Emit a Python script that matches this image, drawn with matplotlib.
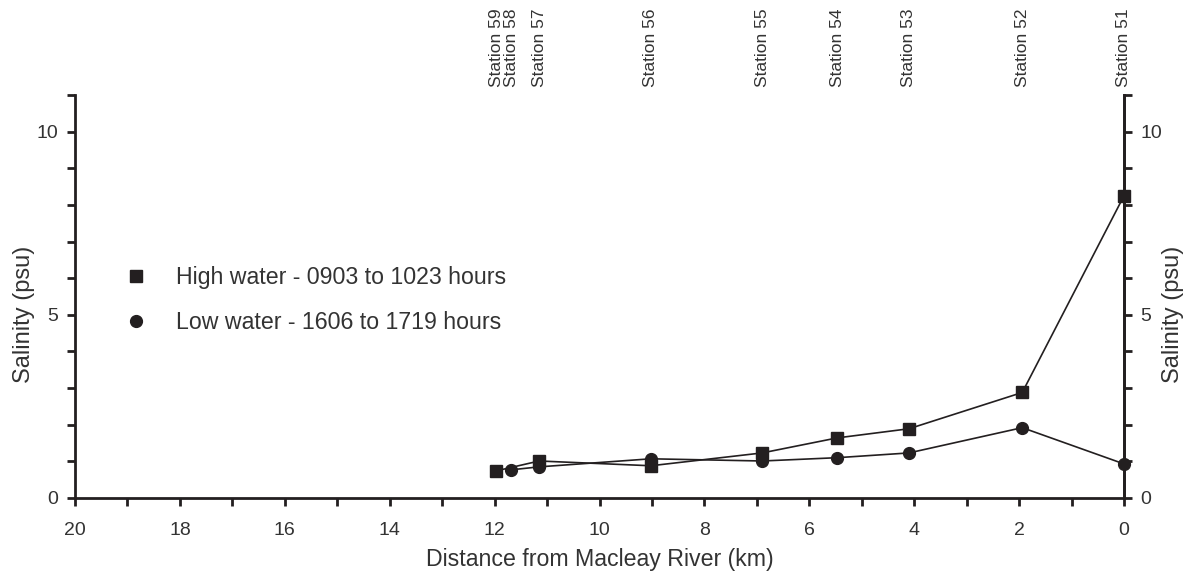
import numpy as np
import matplotlib.pyplot as plt
from matplotlib.ticker import MultipleLocator
from matplotlib.lines import Line2D

plt.rcParams['font.family'] = ['Liberation Sans', 'DejaVu Sans']

INK = "#231f20"
TXT = "#333333"

# Station positions along the channel (km from Macleay River)
stations = ["Station 59", "Station 58", "Station 57", "Station 56", "Station 55",
            "Station 54", "Station 53", "Station 52", "Station 51"]
station_km = [11.97, 11.68, 11.15, 9.02, 6.9, 5.47, 4.1, 1.94, 0.0]

# High water survey (0903-1023 h)
high_km = [11.97, 11.15, 9.02, 6.9, 5.47, 4.1, 1.94, 0.0]
high_sal = [0.74, 1.01, 0.88, 1.23, 1.64, 1.89, 2.88, 8.25]

# Low water survey (1606-1719 h)
low_km = [11.68, 11.15, 9.02, 6.9, 5.47, 4.1, 1.94, 0.0]
low_sal = [0.77, 0.85, 1.07, 1.01, 1.1, 1.23, 1.92, 0.93]

fig = plt.figure(figsize=(11.85, 5.71), dpi=100)
ax = fig.add_axes([75 / 1185, 1 - 498 / 571, (1124 - 75) / 1185, (498 - 95) / 571])

ax.plot(high_km, high_sal, color=INK, lw=1.2, marker="s", ms=9, mfc=INK, mec=INK,
        clip_on=False, zorder=3)
ax.plot(low_km, low_sal, color=INK, lw=1.2, marker="o", ms=8.5, mfc=INK, mec=INK,
        clip_on=False, zorder=4)

ax.set_xlim(20, 0)
ax.set_ylim(0, 11)
ax.xaxis.set_major_locator(MultipleLocator(2))
ax.xaxis.set_minor_locator(MultipleLocator(1))
ax.set_yticks([0, 5, 10])
ax.yaxis.set_minor_locator(MultipleLocator(1))

ax.spines["top"].set_visible(False)
for side in ["left", "bottom", "right"]:
    ax.spines[side].set_linewidth(2)
    ax.spines[side].set_color(INK)

ax.tick_params(axis="both", which="both", direction="out", color=INK, width=2,
               length=6, labelsize=14, labelcolor=TXT)
ax.tick_params(axis="x", which="both", pad=11)
ax.tick_params(axis="y", which="both", pad=6)

ax.set_xlabel("Distance from Macleay River (km)", fontsize=16.7, color=TXT, labelpad=7)
ax.set_ylabel("Salinity (psu)", fontsize=17, color=TXT)
ax.yaxis.set_label_coords(-0.038, 5 / 11)

# right-hand salinity axis, same scale
ax2 = ax.twinx()
ax2.set_ylim(ax.get_ylim())
ax2.set_yticks([0, 5, 10])
ax2.yaxis.set_minor_locator(MultipleLocator(1))
for s in ["top", "left", "bottom"]:
    ax2.spines[s].set_visible(False)
ax2.spines["right"].set_linewidth(2)
ax2.spines["right"].set_color(INK)
ax2.tick_params(axis="y", which="both", direction="out", color=INK, width=2,
                length=6, labelsize=14, labelcolor=TXT, pad=6)
ax2.set_ylabel("Salinity (psu)", fontsize=17, color=TXT)
ax2.yaxis.set_label_coords(1.036, 5 / 11)

# station names along the top
top = ax.secondary_xaxis("top")
top.set_xticks(station_km)
top.set_xticklabels(stations, rotation=90, fontsize=12.5, color=TXT)
top.tick_params(length=0, pad=6)
top.spines["top"].set_visible(False)

handles = [
    Line2D([], [], ls="none", marker="s", ms=9, color=INK),
    Line2D([], [], ls="none", marker="o", ms=8.5, color=INK),
]
ax.legend(handles, ["High water - 0903 to 1023 hours", "Low water - 1606 to 1719 hours"],
          loc="center left", bbox_to_anchor=(0.025, (498 - 300) / 403), frameon=False,
          fontsize=16.7, labelcolor=TXT, handlelength=1.2, handletextpad=1.12,
          labelspacing=0.95)

fig.savefig("out.png", dpi=100)
